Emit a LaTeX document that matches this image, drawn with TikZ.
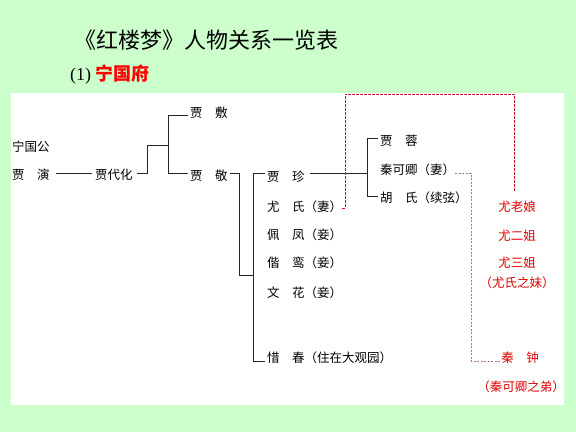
\documentclass[tikz,border=0pt]{standalone}
\usepackage{fontspec}
\setmainfont{Liberation Serif}
\newfontfamily\cjk{Noto Sans CJK SC}
\definecolor{bg}{HTML}{CCFFCC}
\definecolor{redtxt}{HTML}{E00000}
\definecolor{dashred}{HTML}{CC1133}
\definecolor{dashgray}{HTML}{B07878}
\begin{document}
\begin{tikzpicture}[x=1pt,y=-1pt,
  pname/.style={anchor=west,inner sep=0pt,font=\cjk\fontsize{12.5}{14}\selectfont},
  rname/.style={inner sep=0pt,text=redtxt,font=\cjk\fontsize{12.5}{14}\selectfont},
  tree/.style={draw=black!85,line width=0.8pt},
  rdash/.style={draw=dashred,line width=0.8pt,dash pattern=on 2.5pt off 1.5pt},
  gdash/.style={draw=dashgray,line width=0.6pt,dash pattern=on 2pt off 1.5pt}]
\fill[bg] (0,0) rectangle (576,432);
\fill[white] (11,93) rectangle (564,405);
\useasboundingbox (0,0) rectangle (576,432);

% titles
\node[inner sep=0pt,anchor=west,font=\cjk\fontsize{22}{26}\selectfont] (title) at (74,40) {《红楼梦》人物关系一览表};
\node[inner sep=0pt,anchor=west,font=\fontsize{18}{22}\selectfont] (sub) at (70,75) {(1) \textcolor{red}{\cjk\bfseries 宁国府}};

% people
\node[pname] (ngg) at (12,147) {宁国公};
\node[pname] (yan) at (12,175) {贾　演};
\node[pname] (daihua) at (95,175) {贾代化};
\node[pname] (fu) at (190,113) {贾　敷};
\node[pname] (jing) at (190,176) {贾　敬};
\node[pname] (zhen) at (267,177) {贾　珍};
\node[pname] (youshi) at (267,207) {尤　氏（妻）};
\node[pname] (peifeng) at (267,235) {佩　凤（妾）};
\node[pname] (xieluan) at (267,263) {偕　鸾（妾）};
\node[pname] (wenhua) at (267,293) {文　花（妾）};
\node[pname] (xichun) at (267,358) {惜　春（住在大观园）};
\node[pname] (rong) at (380,141) {贾　蓉};
\node[pname] (qin) at (380,170) {秦可卿（妻）};
\node[pname] (hu) at (380,198) {胡　氏（续弦）};

% red names
\node[rname] (laoniang) at (517,207) {尤老娘};
\node[rname] (erjie) at (517,236) {尤二姐};
\node[rname] (sanjie) at (517,263) {尤三姐};
\node[rname] (youmei) at (517,283) {（尤氏之妹）};
\node[rname] (qinzhong) at (520,358) {秦　钟};
\node[rname] (qindi) at (521,387) {（秦可卿之弟）};

% black tree connectors
\coordinate (b1) at (147,145);
\coordinate (fj) at (168,145);
\draw[tree] ([xshift=6,yshift=2]yan.east) -- ([xshift=-3,yshift=2]daihua.west);
\draw[tree] ([xshift=4,yshift=2]daihua.east) -| (b1) -- (fj);
\draw[tree] ([xshift=-2,yshift=-2]fu.west) -| ([xshift=-22,yshift=3]jing.west) -- ([xshift=-2,yshift=3]jing.west);

\coordinate (jv) at (239,275);
\coordinate (jv2) at (253,275);
\draw[tree] ([xshift=2,yshift=3]jing.east) -| (jv) -- (jv2);
\draw[tree] ([xshift=-2,yshift=4]zhen.west) -| ([xshift=-14,yshift=-3]xichun.west) -- ([xshift=-2,yshift=-3]xichun.west);

\draw[tree] ([xshift=5,yshift=4]zhen.east) -- ([xshift=-13,yshift=4]rong.west |- zhen.east);
\draw[tree] ([xshift=-2,yshift=3]rong.west) -| ([xshift=-13,yshift=2]hu.west) -- ([xshift=-2,yshift=2]hu.west);

% dashed relation lines
\coordinate (tl) at (345,94);
\coordinate (tr) at (514,94);
\draw[rdash] ([yshift=-1]youshi.east) -| (tl) -- (tr) -- ([yshift=10]tr |- laoniang.north);
\coordinate (qv) at (471,361);
\draw[gdash] ([yshift=-3]qin.east) -| (qv) -- ([xshift=-1,yshift=-3]qinzhong.west);
\end{tikzpicture}
\end{document}
